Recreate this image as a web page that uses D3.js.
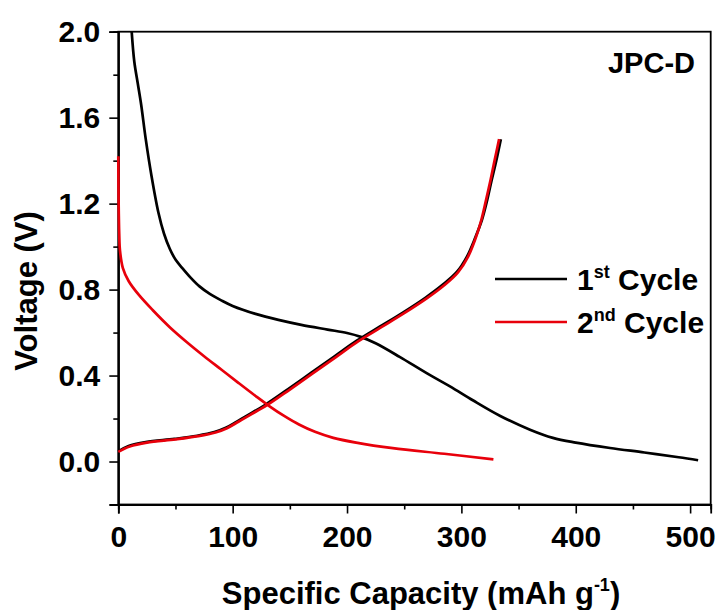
<!DOCTYPE html>
<html>
<head>
<meta charset="utf-8">
<script src="https://cdn.jsdelivr.net/npm/d3@7"></script>
<style>
  body { margin: 0; background: #fff; }
  text { font-family: "Liberation Sans", Arial, sans-serif; font-weight: bold; fill: #000; }
</style>
</head>
<body>
<svg id="chart" width="716" height="610"></svg>
<script>
// capacity (mAh g-1), voltage (V) pairs
var cycle1_discharge = [
  [11.7, 2.0], [14, 1.86], [17, 1.76], [20, 1.66], [24, 1.5], [29, 1.33], [35, 1.16],
  [40, 1.06], [45, 0.99], [50, 0.94], [56, 0.9], [63, 0.857], [71, 0.815], [80, 0.78],
  [90, 0.75], [100, 0.724], [120, 0.687], [140, 0.659], [160, 0.636], [183, 0.614],
  [200, 0.598], [212, 0.58], [225, 0.55], [246, 0.487], [270, 0.41], [290, 0.35],
  [310, 0.285], [334, 0.212], [360, 0.148], [380, 0.11], [400, 0.088], [430, 0.063],
  [460, 0.042], [490, 0.02], [507, 0.006]
];
var cycle1_charge = [
  [0, 0.047], [9, 0.072], [24, 0.09], [49, 0.105], [69, 0.12], [84, 0.137],
  [94, 0.157], [104, 0.187], [114, 0.218], [128.5, 0.264], [148.5, 0.337],
  [168.5, 0.412], [188.5, 0.487], [208.5, 0.562], [228.5, 0.627], [248.5, 0.692],
  [268.5, 0.762], [283.5, 0.822], [296, 0.882], [305, 0.955], [312, 1.04],
  [318, 1.125], [322.5, 1.215], [326.5, 1.31], [330.5, 1.4], [334.5, 1.5]
];
var cycle2_discharge = [
  [0, 1.42], [0.3, 1.2], [0.8, 1.06], [1.5, 0.98], [4, 0.9], [9, 0.84], [18, 0.775],
  [30, 0.705], [45, 0.625], [60, 0.555], [75, 0.49], [90, 0.428], [105, 0.366],
  [120, 0.305], [132, 0.258], [145, 0.212], [158, 0.172], [172, 0.138], [188, 0.11],
  [208, 0.088], [240, 0.062], [285, 0.036], [328, 0.01]
];
var cycle2_charge = [
  [0, 0.045], [10, 0.07], [25, 0.088], [50, 0.103], [70, 0.118], [85, 0.135],
  [95, 0.155], [105, 0.185], [115, 0.216], [130, 0.262], [150, 0.335], [170, 0.41],
  [190, 0.485], [210, 0.56], [230, 0.625], [250, 0.69], [270, 0.76], [285, 0.82],
  [297, 0.88], [306, 0.955], [312.5, 1.04], [317.5, 1.125], [321.5, 1.215],
  [325.5, 1.31], [329, 1.4], [333, 1.5]
];

var y_major = [0.0, 0.4, 0.8, 1.2, 1.6, 2.0];
var y_minor = [-0.2, 0.2, 0.6, 1.0, 1.4, 1.8];
var x_major = [0, 100, 200, 300, 400, 500];
var x_minor = [50, 150, 250, 350, 450];

var legend_items = [
  { num: '1', sup: 'st', rest: ' Cycle', color: '#000000' },
  { num: '2', sup: 'nd', rest: ' Cycle', color: '#e8000b' }
];

var svg = d3.select('#chart');

var p_left = 118.3, p_right = 710.7, p_top = 31.7, p_bottom = 504.5;

var x = d3.scaleLinear().domain([0, 518]).range([p_left, p_right]);
var y = d3.scaleLinear().domain([-0.2, 2.0]).range([p_bottom, p_top]);

var line = d3.line()
  .x((d) => x(d[0]))
  .y((d) => y(d[1]))
  .curve(d3.curveCatmullRom.alpha(0.5));

// frame
svg.append('rect')
  .attr('x', p_left).attr('y', p_top)
  .attr('width', p_right - p_left).attr('height', p_bottom - p_top)
  .attr('fill', 'none').attr('stroke', '#000').attr('stroke-width', 1.8);

// y axis
svg.append('g')
  .attr('transform', `translate(${p_left},0)`)
  .call(d3.axisLeft(y).tickValues(y_major).tickSize(9).tickPadding(9).tickFormat(d3.format('.1f')));
svg.append('g')
  .attr('transform', `translate(${p_left},0)`)
  .call(d3.axisLeft(y).tickValues(y_minor).tickSize(5).tickFormat(''));

// x axis
svg.append('g')
  .attr('transform', `translate(0,${p_bottom})`)
  .call(d3.axisBottom(x).tickValues(x_major).tickSize(9).tickPadding(12).tickFormat(d3.format('d')));
svg.append('g')
  .attr('transform', `translate(0,${p_bottom})`)
  .call(d3.axisBottom(x).tickValues(x_minor).tickSize(5).tickFormat(''));

svg.selectAll('.domain').attr('stroke', '#000').attr('stroke-width', 1.8);
svg.selectAll('.tick line').attr('stroke', '#000').attr('stroke-width', 1.6);
svg.selectAll('.tick text')
  .attr('font-family', '"Liberation Sans", Arial, sans-serif')
  .attr('font-weight', 'bold')
  .attr('font-size', 30)
  .attr('fill', '#000');

// curves: black first, red on top
var curves = [
  { d: cycle1_discharge, c: '#000000' },
  { d: cycle1_charge, c: '#000000' },
  { d: cycle2_discharge, c: '#e8000b' },
  { d: cycle2_charge, c: '#e8000b' }
];
svg.selectAll('path.curve')
  .data(curves)
  .enter()
  .append('path')
  .attr('class', 'curve')
  .attr('d', (d) => line(d.d))
  .attr('fill', 'none')
  .attr('stroke', (d) => d.c)
  .attr('stroke-width', 2.7)
  .attr('stroke-linejoin', 'round')
  .attr('stroke-linecap', 'butt');

// legend
var lg = svg.selectAll('g.legend')
  .data(legend_items)
  .enter()
  .append('g')
  .attr('class', 'legend')
  .attr('transform', (d, i) => `translate(0,${279 + i * 43})`);

lg.append('line')
  .attr('x1', 495).attr('x2', 567)
  .attr('y1', 0).attr('y2', 0)
  .attr('stroke', (d) => d.color)
  .attr('stroke-width', 2.7);

var lt = lg.append('text')
  .attr('x', 577)
  .attr('y', 11)
  .attr('font-size', 30);
lt.append('tspan').text((d) => d.num);
lt.append('tspan').attr('font-size', 18).attr('dy', -12).text((d) => d.sup);
lt.append('tspan').attr('dy', 12).text((d) => d.rest);

// sample label
svg.append('text')
  .attr('x', 695)
  .attr('y', 73)
  .attr('text-anchor', 'end')
  .attr('font-size', 29)
  .text('JPC-D');

// axis titles
svg.append('text')
  .attr('transform', 'translate(37,291) rotate(-90)')
  .attr('text-anchor', 'middle')
  .attr('font-size', 31)
  .text('Voltage (V)');

var xt = svg.append('text')
  .attr('x', 421)
  .attr('y', 604)
  .attr('text-anchor', 'middle')
  .attr('font-size', 31);
xt.append('tspan').text('Specific Capacity (mAh g');
xt.append('tspan').attr('font-size', 18).attr('dy', -13).text('-1');
xt.append('tspan').attr('dy', 13).text(')');
</script>
</body>
</html>
